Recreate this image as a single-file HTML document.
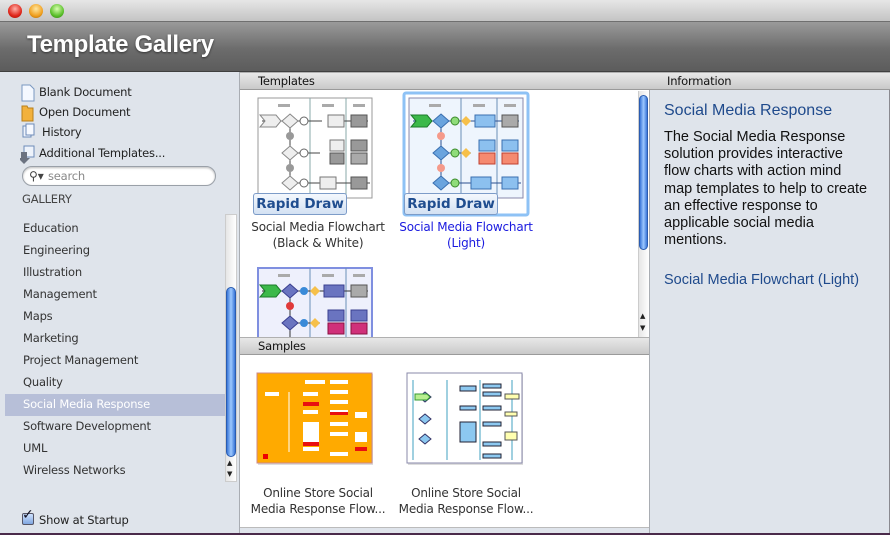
<!DOCTYPE html>
<html><head><meta charset="utf-8"><style>
*{margin:0;padding:0;box-sizing:border-box}
body{width:890px;height:535px;overflow:hidden;position:relative;background:#dfe4eb;font-family:"DejaVu Sans","Liberation Sans",sans-serif}
.abs{position:absolute}
.t{position:absolute;font-size:11.5px;color:#222;white-space:nowrap;letter-spacing:-0.2px}
.hdr{position:absolute;height:18px;background:linear-gradient(#e8e8e8,#c9c9c9);border-bottom:1px solid #9a9a9a;border-top:1px solid #b0b0b0;font-size:11.5px;color:#111;padding:1px 0 0 18px;letter-spacing:-0.2px}
.lt{position:absolute;left:23px;font-size:11.5px;color:#333;letter-spacing:-0.2px}
.light{position:absolute;top:4px;width:14px;height:14px;border-radius:50%}
.info{font-family:"Liberation Sans",sans-serif}
.cap{position:absolute;font-size:12px;color:#333;text-align:center;line-height:16px;letter-spacing:-0.2px}
.rd{position:absolute;height:22px;width:94px;border:1px solid #7d9cc8;border-radius:3px;background:linear-gradient(#f4f8fd,#d3e1f3);color:#1f4d8f;font-weight:bold;font-size:13.5px;text-align:center;line-height:20px}
</style></head><body>
<div class="abs" style="left:0;top:0;width:890px;height:22px;background:linear-gradient(#e6e6e6,#c4c4c4);border-bottom:1px solid #6f6f6f"></div>
<div class="light" style="left:8px;background:radial-gradient(circle at 50% 35%,#ffb0a8,#e0271b 60%,#9a1008)"></div>
<div class="light" style="left:29px;background:radial-gradient(circle at 50% 35%,#ffe7a0,#f0a020 60%,#a86000)"></div>
<div class="light" style="left:50px;background:radial-gradient(circle at 50% 35%,#d8ffb0,#5cc02c 60%,#2a7a10)"></div>
<div class="abs" style="left:0;top:22px;width:890px;height:50px;background:linear-gradient(#9a9a9a,#6c6c6c 55%,#5c5c5c);border-bottom:1px solid #3f3f3f"></div>
<div class="abs info" style="left:27px;top:31px;font-size:24px;font-weight:bold;color:#fff;text-shadow:0 1px 2px #333;letter-spacing:-0.3px">Template Gallery</div>
<div class="abs" style="left:0;top:72px;width:240px;height:463px;background:#dfe4eb;border-right:1px solid #a9adb3"></div>
<svg class="abs" style="left:20px;top:84px" width="16" height="80">
<path d="M2 1h8l4 4v12H2z" fill="#f4f8ff" stroke="#7a98c0"/>
<path d="M2 22h5l1 2h5v13H2z" fill="#f2b13c" stroke="#b8801a"/>
<rect x="3" y="42" width="8" height="11" fill="#eef3fb" stroke="#6d8bb8"/><rect x="6" y="40" width="8" height="11" fill="#f6f9ff" stroke="#6d8bb8"/>
<rect x="4" y="62" width="10" height="11" fill="#eef3fb" stroke="#6d8bb8"/><path d="M1 68h6v6h3l-6 6-6-6h3z" fill="#6b7280"/>
</svg>
<div class="t" style="left:39px;top:85px">Blank Document</div>
<div class="t" style="left:39px;top:105px">Open Document</div>
<div class="t" style="left:42px;top:125px">History</div>
<div class="t" style="left:39px;top:146px">Additional Templates...</div>
<div class="abs" style="left:22px;top:166px;width:194px;height:20px;border:1px solid #9aa0a8;border-radius:10px;background:#fff;box-shadow:inset 0 1px 2px #bbb"></div>
<div class="abs" style="left:29px;top:169px;font-size:12px;color:#444">&#9906;&#9662;</div>
<div class="t" style="left:48px;top:169px;color:#888;font-size:11.5px">search</div>
<div class="t" style="left:22px;top:192px;color:#444">GALLERY</div>
<div class="abs" style="left:5px;top:394px;width:220px;height:22px;background:#b7bfd8"></div>
<div class="lt" style="top:221px">Education</div>
<div class="lt" style="top:243px">Engineering</div>
<div class="lt" style="top:265px">Illustration</div>
<div class="lt" style="top:287px">Management</div>
<div class="lt" style="top:309px">Maps</div>
<div class="lt" style="top:331px">Marketing</div>
<div class="lt" style="top:353px">Project Management</div>
<div class="lt" style="top:375px">Quality</div>
<div class="lt" style="top:397px;color:#fff">Social Media Response</div>
<div class="lt" style="top:419px">Software Development</div>
<div class="lt" style="top:441px">UML</div>
<div class="lt" style="top:463px">Wireless Networks</div>
<div class="abs" style="left:225px;top:214px;width:12px;height:268px;background:linear-gradient(90deg,#e6e6e6,#fff);border:1px solid #ccc"></div>
<div class="abs" style="left:226px;top:287px;width:10px;height:170px;border-radius:5px;background:linear-gradient(90deg,#3a76d8,#9cc8ff 50%,#3a76d8);border:1px solid #2a5cb0"></div>
<div class="abs" style="left:227px;top:459px;font-size:7px;color:#222">&#9650;</div>
<div class="abs" style="left:227px;top:470px;font-size:7px;color:#222">&#9660;</div>
<div class="abs" style="left:22px;top:513px;width:12px;height:12px;border:1px solid #556;background:linear-gradient(#cfe2ff,#7fa6e0);border-radius:2px"></div>
<div class="abs" style="left:22px;top:507px;font-size:14px;color:#112;font-weight:bold">&#10003;</div>
<div class="t" style="left:39px;top:513px">Show at Startup</div>
<div class="hdr" style="left:240px;top:72px;width:410px">Templates</div>
<div class="abs" style="left:240px;top:90px;width:409px;height:247px;background:#fff"></div>
<div class="abs" style="left:638px;top:91px;width:11px;height:246px;background:linear-gradient(90deg,#e6e6e6,#fff);border-left:1px solid #ccc"></div>
<div class="abs" style="left:639px;top:95px;width:9px;height:155px;border-radius:5px;background:linear-gradient(90deg,#3a76d8,#9cc8ff 50%,#3a76d8);border:1px solid #2a5cb0"></div>
<div class="abs" style="left:640px;top:312px;font-size:7px;color:#222">&#9650;</div>
<div class="abs" style="left:640px;top:324px;font-size:7px;color:#222">&#9660;</div>

<svg class="abs" style="left:240px;top:90px" width="398" height="247">
<g transform="translate(18,8)">
<rect x="0" y="0" width="114" height="100" fill="#fff" stroke="#999"/>
<line x1="52" y1="0" x2="52" y2="100" stroke="#8aa"/><line x1="88" y1="0" x2="88" y2="100" stroke="#8aa"/>
<rect x="20" y="6" width="12" height="3" fill="#aaa"/><rect x="64" y="6" width="12" height="3" fill="#aaa"/><rect x="95" y="6" width="12" height="3" fill="#aaa"/>
<path d="M4 23h60M32 23v62M32 55h30M32 85h80M70 23h40" stroke="#444"/>
<path d="M2 17h16l5 6-5 6H2l5-6z" fill="#eee" stroke="#888"/>
<path d="M32 16l8 7-8 7-8-7z M32 48l8 7-8 7-8-7z M32 78l8 7-8 7-8-7z" fill="#eee" stroke="#888"/>
<circle cx="32" cy="38" r="4" fill="#999"/><circle cx="32" cy="70" r="4" fill="#999"/>
<circle cx="46" cy="23" r="4" fill="#fff" stroke="#666"/><circle cx="46" cy="55" r="4" fill="#fff" stroke="#666"/><circle cx="46" cy="85" r="4" fill="#fff" stroke="#666"/>
<rect x="70" y="17" width="16" height="12" fill="#eee" stroke="#777"/><rect x="93" y="17" width="16" height="12" fill="#999" stroke="#555"/>
<rect x="72" y="42" width="14" height="11" fill="#eee" stroke="#777"/><rect x="93" y="42" width="16" height="11" fill="#999" stroke="#555"/>
<rect x="72" y="55" width="14" height="11" fill="#999" stroke="#555"/><rect x="93" y="55" width="16" height="11" fill="#aaa" stroke="#555"/>
<rect x="62" y="79" width="16" height="12" fill="#eee" stroke="#777"/><rect x="93" y="79" width="16" height="12" fill="#999" stroke="#555"/>
</g>
<rect x="164" y="3" width="124" height="122" fill="none" stroke="#8ec2f5" stroke-width="3" rx="2"/>
<g transform="translate(169,8)">
<rect x="0" y="0" width="114" height="100" fill="#eef5fd" stroke="#88a"/>
<line x1="52" y1="0" x2="52" y2="100" stroke="#6b8fb8"/><line x1="88" y1="0" x2="88" y2="100" stroke="#6b8fb8"/>
<rect x="20" y="6" width="12" height="3" fill="#aaa"/><rect x="64" y="6" width="12" height="3" fill="#aaa"/><rect x="95" y="6" width="12" height="3" fill="#aaa"/>
<path d="M4 23h106M32 23v62M32 55h30M32 85h80" stroke="#2a4f8f"/>
<path d="M2 17h16l5 6-5 6H2l5-6z" fill="#3cb94a" stroke="#1c7a2a"/>
<path d="M32 16l8 7-8 7-8-7z M32 48l8 7-8 7-8-7z M32 78l8 7-8 7-8-7z" fill="#6aa4de" stroke="#3a6fb0"/>
<circle cx="32" cy="38" r="4" fill="#f59a8a"/><circle cx="32" cy="70" r="4" fill="#f59a8a"/>
<circle cx="46" cy="23" r="4" fill="#8fdc7a" stroke="#3a8a2a"/><circle cx="46" cy="55" r="4" fill="#8fdc7a" stroke="#3a8a2a"/><circle cx="46" cy="85" r="4" fill="#8fdc7a" stroke="#3a8a2a"/>
<path d="M57 18l5 5-5 5-5-5zM57 50l5 5-5 5-5-5z" fill="#f6c04a"/>
<rect x="66" y="17" width="20" height="12" fill="#8cc0ef" stroke="#3a6fb0"/><rect x="93" y="17" width="16" height="12" fill="#aaa" stroke="#555"/>
<rect x="70" y="42" width="16" height="11" fill="#8cc0ef" stroke="#3a6fb0"/><rect x="93" y="42" width="16" height="11" fill="#8cc0ef" stroke="#3a6fb0"/>
<rect x="70" y="55" width="16" height="11" fill="#f58a70" stroke="#c04030"/><rect x="93" y="55" width="16" height="11" fill="#f58a70" stroke="#c04030"/>
<rect x="62" y="79" width="20" height="12" fill="#8cc0ef" stroke="#3a6fb0"/><rect x="93" y="79" width="16" height="12" fill="#8cc0ef" stroke="#3a6fb0"/>
</g>
<g transform="translate(18,178)">
<rect x="0" y="0" width="114" height="80" fill="#eef0fc" stroke="#7f8fe0" stroke-width="2"/>
<line x1="52" y1="0" x2="52" y2="80" stroke="#6b8fb8"/><line x1="88" y1="0" x2="88" y2="80" stroke="#6b8fb8"/>
<rect x="20" y="6" width="12" height="3" fill="#aaa"/><rect x="64" y="6" width="12" height="3" fill="#aaa"/><rect x="95" y="6" width="12" height="3" fill="#aaa"/>
<path d="M4 23h106M32 23v60M32 55h30" stroke="#333"/>
<path d="M2 17h16l5 6-5 6H2l5-6z" fill="#3cb94a" stroke="#1c7a2a"/>
<path d="M32 16l8 7-8 7-8-7z M32 48l8 7-8 7-8-7z" fill="#6a74c0" stroke="#3a3f90"/>
<circle cx="32" cy="38" r="4" fill="#e03a3a"/><circle cx="46" cy="23" r="4" fill="#3a8ad8"/><circle cx="46" cy="55" r="4" fill="#3a8ad8"/>
<path d="M57 18l5 5-5 5-5-5zM57 50l5 5-5 5-5-5z" fill="#f6c04a"/>
<rect x="66" y="17" width="20" height="12" fill="#6a74c0" stroke="#3a3f90"/><rect x="93" y="17" width="16" height="12" fill="#aaa" stroke="#555"/>
<rect x="70" y="42" width="16" height="11" fill="#6a74c0" stroke="#3a3f90"/><rect x="93" y="42" width="16" height="11" fill="#6a74c0" stroke="#3a3f90"/>
<rect x="70" y="55" width="16" height="11" fill="#d0307a" stroke="#8a1040"/><rect x="93" y="55" width="16" height="11" fill="#d0307a" stroke="#8a1040"/>
</g>
</svg>
<div class="rd" style="left:253px;top:193px">Rapid Draw</div>
<div class="rd" style="left:404px;top:193px">Rapid Draw</div>
<div class="cap" style="left:243px;top:219px;width:150px">Social Media Flowchart<br>(Black &amp; White)</div>
<div class="cap" style="left:393px;top:219px;width:146px;color:#1a1adf">Social Media Flowchart<br>(Light)</div>

<div class="hdr" style="left:240px;top:337px;width:410px">Samples</div>
<div class="abs" style="left:240px;top:355px;width:409px;height:173px;background:#fff;border-bottom:1px solid #bbb"></div>
<svg class="abs" style="left:255px;top:372px" width="280" height="100">
<rect x="3" y="2" width="115" height="91" fill="#aaa" opacity="0.4"/>
<rect x="2" y="1" width="115" height="90" fill="#ffaa00" stroke="#c88"/>
<g fill="#fff"><rect x="50" y="8" width="20" height="4"/><rect x="75" y="8" width="18" height="4"/><rect x="48" y="20" width="15" height="4"/><rect x="75" y="18" width="18" height="4"/><rect x="75" y="28" width="18" height="4"/><rect x="48" y="38" width="15" height="4"/><rect x="75" y="38" width="18" height="4"/><rect x="48" y="50" width="16" height="20"/><rect x="75" y="50" width="18" height="4"/><rect x="75" y="60" width="18" height="4"/><rect x="48" y="75" width="16" height="4"/><rect x="75" y="80" width="18" height="4"/><rect x="100" y="40" width="12" height="6"/><rect x="100" y="60" width="12" height="10"/><rect x="10" y="20" width="14" height="4"/></g>
<g fill="#e81010"><rect x="48" y="30" width="16" height="4"/><rect x="75" y="40" width="18" height="3"/><rect x="48" y="70" width="16" height="4"/><rect x="100" y="75" width="12" height="4"/></g>
<path d="M34 20v60" stroke="#fff"/>
<rect x="8" y="82" width="5" height="5" fill="#e00"/>
<rect x="153" y="2" width="115" height="91" fill="#aaa" opacity="0.4"/>
<rect x="152" y="1" width="115" height="90" fill="#fff" stroke="#88a"/>
<path d="M158 8v80M192 8v80M225 8v80M257 8v80" stroke="#40a0c0"/>
<g fill="#8cc8f0" stroke="#223"><rect x="205" y="14" width="16" height="5"/><rect x="228" y="12" width="18" height="4"/><rect x="228" y="20" width="18" height="4"/><rect x="205" y="34" width="16" height="4"/><rect x="228" y="34" width="18" height="4"/><rect x="205" y="50" width="16" height="20"/><rect x="228" y="50" width="18" height="4"/><rect x="228" y="70" width="18" height="4"/><rect x="228" y="82" width="18" height="4"/></g>
<g fill="#ffffb0" stroke="#555"><rect x="250" y="22" width="14" height="5"/><rect x="250" y="40" width="12" height="4"/><rect x="250" y="60" width="12" height="8"/></g>
<path d="M170 20l6 5-6 5-6-5zM170 42l6 5-6 5-6-5zM170 62l6 5-6 5-6-5z" fill="#8cc8f0" stroke="#336"/>
<path d="M160 22h12l3 3-3 3h-12z" fill="#b8ef90" stroke="#393"/>
</svg>
<div class="cap" style="left:243px;top:485px;width:150px">Online Store Social<br>Media Response Flow...</div>
<div class="cap" style="left:391px;top:485px;width:150px">Online Store Social<br>Media Response Flow...</div>

<div class="abs" style="left:649px;top:72px;width:241px;height:463px;background:#dfe4eb;border-left:1px solid #a9adb3;border-right:1px solid #8a8a90"></div>
<div class="hdr" style="left:649px;top:72px;width:241px;padding-left:18px">Information</div>
<div class="abs info" style="left:664px;top:102px;font-size:16px;color:#1f4a8c">Social Media Response</div>
<div class="abs info" style="left:664px;top:129px;width:206px;font-size:14.5px;line-height:17.2px;color:#111">The Social Media Response solution provides interactive flow charts with action mind map templates to help to create an effective response to applicable social media mentions.</div>
<div class="abs info" style="left:664px;top:272px;font-size:14.5px;color:#1f4a8c">Social Media Flowchart (Light)</div>
<div class="abs" style="left:0;top:533px;width:890px;height:2px;background:#4a2a4a"></div>
</body></html>
